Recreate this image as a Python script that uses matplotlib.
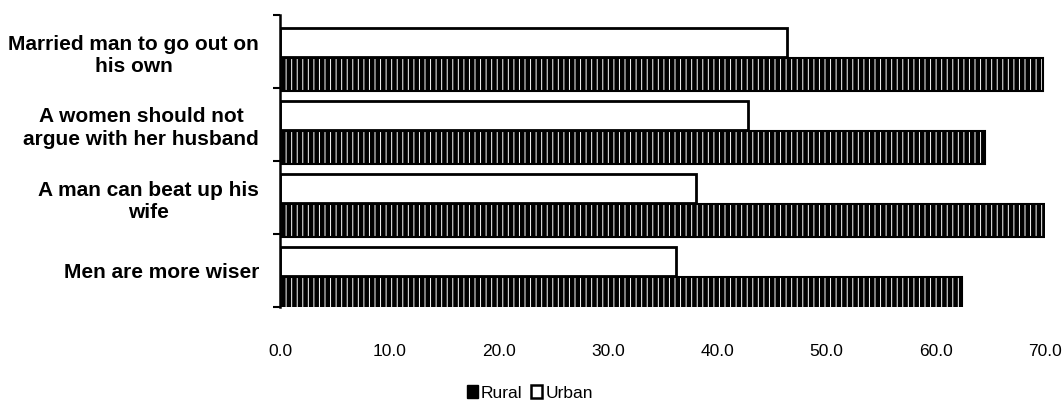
import matplotlib
matplotlib.use("Agg")
import matplotlib.pyplot as plt
import matplotlib.patches as mpatches
import numpy as np

plt.rcParams['font.family'] = ['Liberation Sans', 'DejaVu Sans']
plt.rcParams['hatch.linewidth'] = 0.7

categories = ["Married man to go out on\nhis own",
              "A women should not\nargue with her husband",
              "A man can beat up his\nwife",
              "Men are more wiser"]
rural = [69.8, 64.5, 70.1, 62.4]
urban = [46.4, 42.8, 38.1, 36.2]
xticks = [0, 10, 20, 30, 40, 50, 60, 70]

fig = plt.figure(figsize=(10.64, 4.13), dpi=100)
ax = fig.add_axes([280/1064, 1-307/413, (1045-280)/1064, (307-15)/413])

y = np.arange(len(categories))
# urban bar (upper), rural bar (lower)
ax.barh(y - 0.12, urban, height=0.40, color='white', edgecolor='black', linewidth=2.0)
ax.barh(y + 0.31, rural, height=0.45, color='black', edgecolor='white', hatch='|||', linewidth=0)
ax.barh(y + 0.31, rural, height=0.45, color='none', edgecolor='black', linewidth=1.5)

ax.set_xlim(0, 70)
ax.set_ylim(3.5, -0.5)
ax.set_xticks(xticks)
ax.set_xticklabels([f"{v:.1f}" for v in xticks], fontsize=12.5)
ax.tick_params(axis='x', length=0, pad=27)

ax.set_yticks(y)
ax.set_yticklabels(categories, fontsize=15, fontweight='bold', multialignment='center',
                   linespacing=1.25)
ax.tick_params(axis='y', which='major', length=0, pad=15)
ax.set_yticks(np.arange(-0.5, 4.0, 1.0), minor=True)
ax.tick_params(axis='y', which='minor', length=5, width=1.5, direction='out')

for s in ['top', 'right', 'bottom']:
    ax.spines[s].set_visible(False)
ax.spines['left'].set_linewidth(1.8)

h_r = mpatches.Patch(facecolor='black', edgecolor='black', linewidth=1.0, label='Rural')
h_u = mpatches.Patch(facecolor='white', edgecolor='black', linewidth=1.8, label='Urban')
fig.legend(handles=[h_r, h_u], loc='center', bbox_to_anchor=(530/1064, 1-393/413),
           ncol=2, frameon=False, fontsize=12.5, handlelength=0.6, handleheight=0.7,
           handletextpad=0.2, columnspacing=0.5)

fig.savefig("out.png", dpi=100)
